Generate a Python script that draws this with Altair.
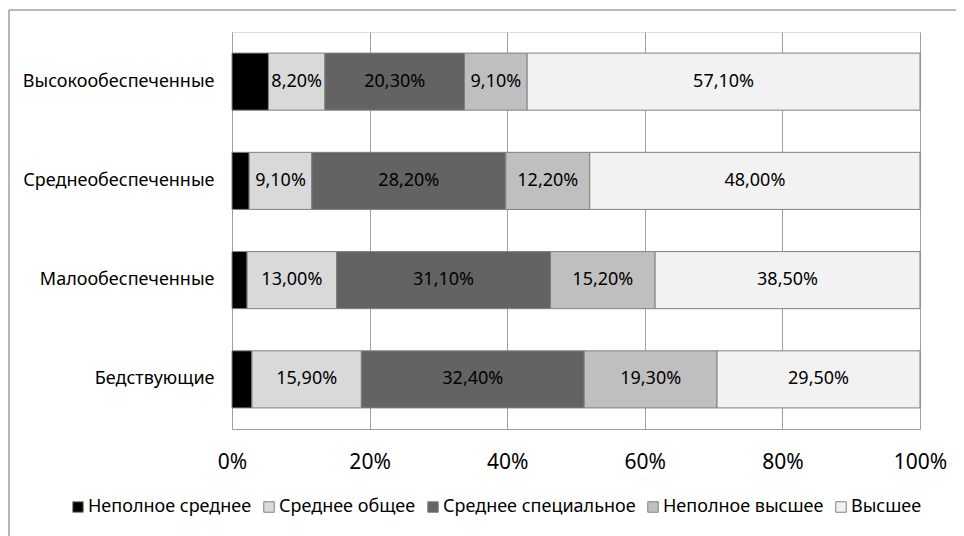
import altair as alt
import pandas as pd

categories = ["Высокообеспеченные", "Среднеобеспеченные", "Малообеспеченные", "Бедствующие"]
series = ["Неполное среднее", "Среднее общее", "Среднее специальное", "Неполное высшее", "Высшее"]
colors = ["#000000", "#d9d9d9", "#636363", "#bfbfbf", "#f2f2f2"]

nepolnoe_srednee = [5.3, 2.5, 2.2, 2.9]
srednee_obshee = [8.2, 9.1, 13.0, 15.9]
srednee_spec = [20.3, 28.2, 31.1, 32.4]
nepolnoe_vysshee = [9.1, 12.2, 15.2, 19.3]
vysshee = [57.1, 48.0, 38.5, 29.5]
show_label = [False, True, True, True, True]

tick_values = [0, 20, 40, 60, 80, 100]

cols = [nepolnoe_srednee, srednee_obshee, srednee_spec, nepolnoe_vysshee, vysshee]
rows = []
for si, (s, vals) in enumerate(zip(series, cols)):
    for c, v in zip(categories, vals):
        rows.append({
            "cat": c, "series": s, "order": si, "value": v,
            "label": (f"{v:.2f}".replace(".", ",") + "%") if show_label[si] else "",
        })
df = pd.DataFrame(rows)

FONT = "Noto Sans"

base = alt.Chart(df).transform_stack(
    stack="value", groupby=["cat"], as_=["x0", "x1"], sort=[alt.SortField("order")]
).transform_calculate(mid="(datum.x0 + datum.x1) / 2")

y_enc = alt.Y(
    "cat:N", sort=categories, title=None,
    scale=alt.Scale(paddingInner=0.425, paddingOuter=0.2125),
    axis=alt.Axis(ticks=False, labelPadding=18, labelFontSize=18, labelFont=FONT,
                  labelColor="#000000", domainColor="#a0a0a0", labelLimit=300),
)

bars = base.mark_bar(stroke="#808080", strokeWidth=1).encode(
    x=alt.X("x0:Q", title=None,
            scale=alt.Scale(domain=[0, 100], nice=False),
            axis=alt.Axis(values=tick_values, labelExpr="datum.value + '%'", ticks=False,
                          labelFlush=False, labelOverlap=False,
                          labelPadding=22, labelFontSize=21, labelFont=FONT,
                          labelColor="#000000", grid=True, gridColor="#a0a0a0",
                          domainColor="#a0a0a0")),
    x2="x1:Q",
    y=y_enc,
    color=alt.Color("series:N", sort=series,
                    scale=alt.Scale(domain=series, range=colors),
                    legend=alt.Legend(title=None, orient="none", direction="horizontal",
                                      legendX=-163, legendY=466, symbolType="square",
                                      symbolSize=110, symbolStrokeColor="#808080",
                                      symbolStrokeWidth=1, labelFontSize=18, labelFont=FONT,
                                      labelColor="#000000", labelOffset=1, columnPadding=8,
                                      labelLimit=400)),
    order=alt.Order("order:Q"),
)

texts = base.mark_text(fontSize=18, font=FONT, color="#000000").encode(
    x=alt.X("mid:Q"),
    y=alt.Y("cat:N", sort=categories),
    text="label:N",
)

frame = pd.DataFrame({"k": [0]})
border_top = alt.Chart(frame).mark_rule(color="#a0a0a0", strokeWidth=1.5, clip=False).encode(
    x=alt.value(-223), x2=alt.value(724), y=alt.value(-22)
)
border_left = alt.Chart(frame).mark_rule(color="#a0a0a0", strokeWidth=1.5, clip=False).encode(
    x=alt.value(-223), y=alt.value(-22), y2=alt.value(504)
)

chart = alt.layer(border_top, border_left, bars, texts).properties(
    width=688, height=397,
    autosize=alt.AutoSizeParams(type="none"),
    padding={"left": 224, "top": 24, "right": 36, "bottom": 107},
).configure_view(stroke=None).configure(background="#ffffff")

chart.save("out.html", embed_options={"renderer": "svg", "actions": False})
